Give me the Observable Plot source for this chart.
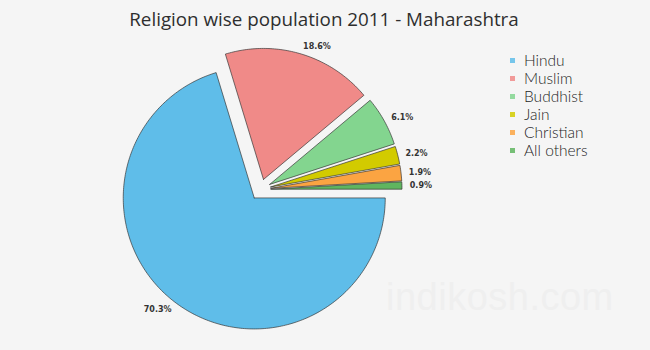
<!DOCTYPE html>
<html>
<head>
<meta charset="utf-8">
<script src="https://cdn.jsdelivr.net/npm/d3@7"></script>
<script src="https://cdn.jsdelivr.net/npm/@observablehq/plot@0.6"></script>
<style>
  html, body { margin: 0; padding: 0; background: #f5f5f5; }
  #wrap { position: relative; width: 650px; height: 350px; background: #f5f5f5; overflow: hidden; }
  #wrap svg { position: absolute; left: 0; top: 0; }
  #title { position: absolute; left: 0; width: 648px; top: 6px; text-align: center;
           font-family: "Open Sans", sans-serif; font-size: 18.8px; color: #2e2e2e; }
  #legend { position: absolute; left: 508px; top: 51px; font-family: Lato, sans-serif;
            font-weight: 300; font-size: 15.5px; color: #1e1e1e; }
  .row { height: 18px; line-height: 18px; display: flex; align-items: center; white-space: nowrap; }
  .sw { width: 5px; height: 5px; margin-right: 9px; margin-left: 2px; opacity: 0.85; }
  #wm { position: absolute; left: 386px; top: 276px; font-family: "Liberation Sans", sans-serif;
        font-size: 38px; color: #efefef; letter-spacing: 0.5px; }
</style>
</head>
<body>
<div id="wrap">
  <div id="title">Religion wise population 2011 - Maharashtra</div>
  <div id="wm">indikosh.com</div>
  <div id="legend"></div>
</div>
<script>
// ---- data ----
const religions = ["Hindu", "Muslim", "Buddhist", "Jain", "Christian", "All others"];
const shares = [70.3, 18.6, 6.1, 2.2, 1.9, 0.9];
const labels = ["70.3%", "18.6%", "6.1%", "2.2%", "1.9%", "0.9%"];
const colors = ["#5fbde9", "#f08a88", "#83d58f", "#d2cb00", "#fba442", "#5fb55f"];

// ---- layout (pixels) ----
const W = 650, H = 350, cx = 260, cy = 189, R = 131;
const explode = 10.5 / R;   // in radius units
const labelR = 1.06;

const pie = d3.pie().sort(null).startAngle(Math.PI / 2).endAngle(Math.PI / 2 + 2 * Math.PI);
const arcs = pie(shares);

// polygon points in unit space (x right, y up)
const pts = [];
const lab = [];
arcs.forEach((a, i) => {
  const mid = (a.startAngle + a.endAngle) / 2;
  const ox = explode * Math.sin(mid), oy = explode * Math.cos(mid);
  pts.push({ rel: religions[i], x: ox, y: oy });
  const n = Math.max(4, Math.ceil((a.endAngle - a.startAngle) * 60));
  for (let k = 0; k <= n; k++) {
    const t = a.startAngle + (a.endAngle - a.startAngle) * k / n;
    pts.push({ rel: religions[i], x: ox + Math.sin(t), y: oy + Math.cos(t) });
  }
  pts.push({ rel: religions[i], x: ox, y: oy });
  lab.push({
    rel: religions[i], text: labels[i],
    x: ox + labelR * Math.sin(mid), y: oy + labelR * Math.cos(mid),
    anchor: Math.sin(mid) >= 0 ? "start" : "end"
  });
});

const plot = Plot.plot({
  width: W, height: H,
  margin: 0,
  style: { background: "transparent", overflow: "visible" },
  x: { domain: [-cx / R, (W - cx) / R], axis: null },
  y: { domain: [(cy - H) / R, cy / R], axis: null },
  color: { domain: religions, range: colors },
  marks: [
    Plot.line(pts, { x: "x", y: "y", z: "rel", fill: "rel", stroke: "#333", strokeWidth: 0.8,
                     strokeOpacity: 0.85, curve: "linear" }),
    Plot.text(lab.filter(d => d.anchor === "start"), { x: "x", y: "y", text: "text", textAnchor: "start",
      fontFamily: "DejaVu Sans", fontWeight: "bold", fontSize: 8, fill: "#333" }),
    Plot.text(lab.filter(d => d.anchor === "end"), { x: "x", y: "y", text: "text", textAnchor: "end",
      fontFamily: "DejaVu Sans", fontWeight: "bold", fontSize: 8, fill: "#333" })
  ]
});
document.getElementById("wrap").insertBefore(plot, document.getElementById("title"));

const color = plot.scale("color");
const leg = document.getElementById("legend");
religions.forEach(r => {
  const row = document.createElement("div");
  row.className = "row";
  const sw = document.createElement("span");
  sw.className = "sw";
  sw.style.background = colors[color.domain.indexOf(r)];
  const t = document.createElement("span");
  t.textContent = r;
  row.appendChild(sw); row.appendChild(t);
  leg.appendChild(row);
});
</script>
</body>
</html>
